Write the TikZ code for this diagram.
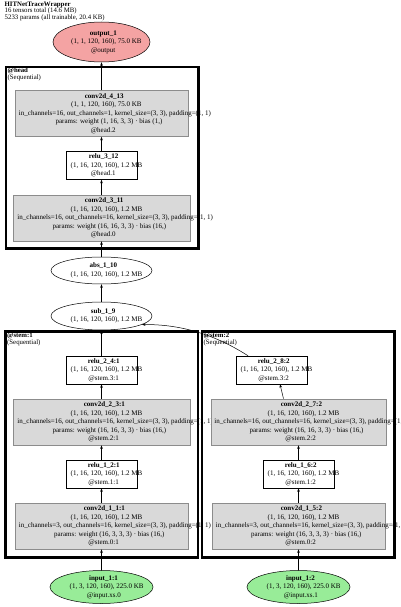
\documentclass[tikz,border=0pt]{standalone}
\usepackage{fontspec}
\setmainfont{Liberation Serif}
\usetikzlibrary{shapes.geometric,arrows.meta}
\definecolor{outfill}{HTML}{F4A3A3}
\definecolor{infill}{HTML}{98EC98}
\definecolor{convfill}{HTML}{D9D9D9}
\definecolor{convline}{HTML}{8C8C8C}
\newsavebox\lnbox
\newcommand{\cl}[1]{\sbox\lnbox{#1}\makebox[0pt][l]{\hspace{-0.43\wd\lnbox}\usebox\lnbox}}
\begin{document}
\begin{tikzpicture}[x=1pt,y=-1pt,
  every node/.style={font=\fontsize{7}{8.5}\selectfont, inner sep=0pt, align=center},
  convbox/.style={rectangle, draw=convline, fill=convfill, minimum height=46pt, line width=0.6pt},
  relubox/.style={rectangle, draw=black, fill=white, minimum width=71pt, minimum height=28pt, line width=0.5pt},
  oval/.style={ellipse, draw=black, line width=0.5pt, minimum width=101pt, minimum height=27pt},
  cluster/.style={draw=black, line width=2.6pt},
  arr/.style={-{Stealth[length=3.5pt,width=2.6pt]}, line width=0.5pt},
  clabel/.style={anchor=north west, font=\fontsize{6.8}{6.9}\selectfont, align=left},
  hlabel/.style={anchor=north west, font=\fontsize{6.8}{6.5}\selectfont, align=left}
]
\useasboundingbox (0,0) rectangle (400,607);

% header
\node[hlabel] (hdr) at (4.5,1.5) {\textbf{HITNetTraceWrapper}\\16 tensors total (14.6 MB)\\5233 params (all trainable, 20.4 KB)};

% clusters
\draw[cluster] (6,67) rectangle (198.3,248.7);
\node[clabel] (lhead) at (7.5,68) {\textbf{@head}\\(Sequential)};
\draw[cluster] (5.3,331.5) rectangle (198,557.5);
\node[clabel] (lstem1) at (7,332.5) {\textbf{@stem:1}\\(Sequential)};
\draw[cluster] (202,331.5) rectangle (394.5,557.5);
\node[clabel] (lstem2) at (203.5,332.5) {\textbf{@stem:2}\\(Sequential)};

% nodes
\node[oval, fill=outfill, minimum width=97pt, minimum height=40pt] (out) at (101.5,42)
  {\cl{\textbf{output\_1}}\\\cl{(1, 1, 120, 160), 75.0 KB}\\\cl{@output}};

\node[convbox, minimum width=173pt] (conv4) at (101.5,113.5)
  {\cl{\textbf{conv2d\_4\_13}}\\\cl{(1, 1, 120, 160), 75.0 KB}\\\cl{in\_channels=16, out\_channels=1, kernel\_size=(3, 3), padding=(1, 1)}\\\cl{params: weight (1, 16, 3, 3) · bias (1,)}\\\cl{@head.2}};
\node[relubox] (relu3) at (101.5,165.5)
  {\cl{\textbf{relu\_3\_12}}\\\cl{(1, 16, 120, 160), 1.2 MB}\\\cl{@head.1}};
\node[convbox, minimum width=177pt] (conv3) at (101.5,218)
  {\cl{\textbf{conv2d\_3\_11}}\\\cl{(1, 16, 120, 160), 1.2 MB}\\\cl{in\_channels=16, out\_channels=16, kernel\_size=(3, 3), padding=(1, 1)}\\\cl{params: weight (16, 16, 3, 3) · bias (16,)}\\\cl{@head.0}};

\node[oval] (abs) at (101.5,270.5)
  {\cl{\textbf{abs\_1\_10}}\\\cl{(1, 16, 120, 160), 1.2 MB}};
\node[oval, minimum height=28pt] (sub) at (101.5,316)
  {\cl{\textbf{sub\_1\_9}}\\\cl{(1, 16, 120, 160), 1.2 MB}};

% stem 1
\node[relubox] (relu24) at (101.5,370)
  {\cl{\textbf{relu\_2\_4:1}}\\\cl{(1, 16, 120, 160), 1.2 MB}\\\cl{@stem.3:1}};
\node[convbox, minimum width=177pt] (conv23) at (101.5,422)
  {\cl{\textbf{conv2d\_2\_3:1}}\\\cl{(1, 16, 120, 160), 1.2 MB}\\\cl{in\_channels=16, out\_channels=16, kernel\_size=(3, 3), padding=(1, 1)}\\\cl{params: weight (16, 16, 3, 3) · bias (16,)}\\\cl{@stem.2:1}};
\node[relubox] (relu12) at (101.5,474)
  {\cl{\textbf{relu\_1\_2:1}}\\\cl{(1, 16, 120, 160), 1.2 MB}\\\cl{@stem.1:1}};
\node[convbox, minimum width=173pt] (conv11) at (101.5,526)
  {\cl{\textbf{conv2d\_1\_1:1}}\\\cl{(1, 16, 120, 160), 1.2 MB}\\\cl{in\_channels=3, out\_channels=16, kernel\_size=(3, 3), padding=(1, 1)}\\\cl{params: weight (16, 3, 3, 3) · bias (16,)}\\\cl{@stem.0:1}};

% stem 2
\node[relubox] (relu28) at (271.5,370)
  {\cl{\textbf{relu\_2\_8:2}}\\\cl{(1, 16, 120, 160), 1.2 MB}\\\cl{@stem.3:2}};
\node[convbox, minimum width=175pt] (conv27) at (298.5,422)
  {\cl{\textbf{conv2d\_2\_7:2}}\\\cl{(1, 16, 120, 160), 1.2 MB}\\\cl{in\_channels=16, out\_channels=16, kernel\_size=(3, 3), padding=(1, 1)}\\\cl{params: weight (16, 16, 3, 3) · bias (16,)}\\\cl{@stem.2:2}};
\node[relubox] (relu16) at (298.5,474)
  {\cl{\textbf{relu\_1\_6:2}}\\\cl{(1, 16, 120, 160), 1.2 MB}\\\cl{@stem.1:2}};
\node[convbox, minimum width=173pt] (conv15) at (298.5,526)
  {\cl{\textbf{conv2d\_1\_5:2}}\\\cl{(1, 16, 120, 160), 1.2 MB}\\\cl{in\_channels=3, out\_channels=16, kernel\_size=(3, 3), padding=(1, 1)}\\\cl{params: weight (16, 3, 3, 3) · bias (16,)}\\\cl{@stem.0:2}};

% inputs
\node[oval, fill=infill, minimum width=103pt, minimum height=32pt] (in1) at (101.5,587)
  {\cl{\textbf{input\_1:1}}\\\cl{(1, 3, 120, 160), 225.0 KB}\\\cl{@input.xs.0}};
\node[oval, fill=infill, minimum width=103pt, minimum height=32pt] (in2) at (298.5,587)
  {\cl{\textbf{input\_1:2}}\\\cl{(1, 3, 120, 160), 225.0 KB}\\\cl{@input.xs.1}};

% edges
\draw[arr] (in1) -- (conv11);
\draw[arr] (conv11) -- (relu12);
\draw[arr] (relu12) -- (conv23);
\draw[arr] (conv23) -- (relu24);
\draw[arr] (relu24) -- (sub);
\draw[arr] (in2) -- (conv15);
\draw[arr] (conv15) -- (relu16);
\draw[arr] (relu16) -- (conv27);
\draw[arr] ([xshift=-15pt]conv27.north) -- ([xshift=8.5pt]relu28.south);
\draw[arr] ([xshift=-23.5pt]relu28.north) .. controls (225,341) and (190,324) .. (sub.-12);
\draw[arr] (sub) -- (abs);
\draw[arr] (abs) -- (conv3);
\draw[arr] (conv3) -- (relu3);
\draw[arr] (relu3) -- (conv4);
\draw[arr] (conv4) -- (out);
\end{tikzpicture}
\end{document}
